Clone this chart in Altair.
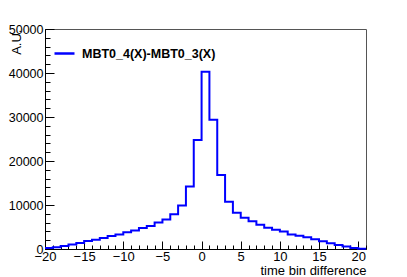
import altair as alt
import pandas as pd

# histogram: bin low edges (width 1) and contents
bin_low_edges = list(range(-20, 21))
bin_counts = [200, 400, 700, 1000, 1350, 1800, 2100, 2500, 2950, 3300,
              3800, 4200, 4800, 5200, 6000, 6700, 7900, 9900, 14200, 24800,
              40300, 29400, 16800, 10750, 8250, 7100, 6300, 5500, 4850, 4400,
              4000, 3300, 3000, 2650, 2200, 1750, 1300, 900, 550, 250, 80]
series_name = "MBT0_4(X)-MBT0_3(X)"
x_major = [-20, -15, -10, -5, 0, 5, 10, 15, 20]
x_minor = list(range(-20, 22))
y_major = [0, 10000, 20000, 30000, 40000, 50000]
y_minor = list(range(0, 50001, 2000))

# step outline: last bin closed at the upper edge
xs = bin_low_edges + [bin_low_edges[-1] + 1]
ys = bin_counts + [bin_counts[-1]]
df = pd.DataFrame({"x": xs, "y": ys, "series": series_name})

FONT = "Liberation Sans"
W, H = 321, 220
xscale = alt.Scale(domain=[-20, 21], nice=False, zero=False)
yscale = alt.Scale(domain=[0, 50000], nice=False)

main = alt.Chart(df).mark_line(interpolate="step-after", strokeWidth=2).encode(
    x=alt.X("x:Q", scale=xscale,
            axis=alt.Axis(orient="bottom", values=x_major, format="d",
                          tickSize=alt.ExprRef(expr="-8"), labelPadding=9,
                          labelFont=FONT, labelFontSize=13, labelColor="black",
                          domainColor="black", tickColor="black", grid=False,
                          labelFlush=False, labelOverlap=False,
                          title="time bin difference", titleFont=FONT,
                          titleFontSize=13, titleFontWeight="normal",
                          titleAnchor="end", titleAlign="right",
                          titleBaseline="alphabetic", titleX=W, titleY=25,
                          titleColor="black")),
    y=alt.Y("y:Q", scale=yscale,
            axis=alt.Axis(orient="left", values=y_major, format="d",
                          tickSize=alt.ExprRef(expr="-9"), labelPadding=11,
                          labelFont=FONT, labelFontSize=12.5, labelColor="black",
                          domainColor="black", tickColor="black", grid=False,
                          labelOverlap=False,
                          title="A.U.", titleFont=FONT, titleFontSize=13,
                          titleFontWeight="normal", titleAnchor="end",
                          titleAlign="right", titleAngle=270,
                          titleBaseline="alphabetic", titleX=-25, titleY=0,
                          titleColor="black")),
    color=alt.Color("series:N",
                    scale=alt.Scale(domain=[series_name], range=["#0000ff"]),
                    legend=alt.Legend(orient="none", legendX=8, legendY=13,
                                      title=None, symbolType="stroke",
                                      symbolSize=400, symbolStrokeWidth=2.5,
                                      labelFont=FONT, labelFontSize=12.5,
                                      labelFontWeight="bold", labelColor="black",
                                      labelOffset=6, labelLimit=400)),
)

minor = alt.Chart(df).mark_line(opacity=0).encode(
    x=alt.X("x:Q", scale=xscale,
            axis=alt.Axis(orient="bottom", values=x_minor, labels=False,
                          tickSize=alt.ExprRef(expr="-4"), domain=False,
                          tickColor="black", grid=False, title=None)),
    y=alt.Y("y:Q", scale=yscale,
            axis=alt.Axis(orient="left", values=y_minor, labels=False,
                          tickSize=alt.ExprRef(expr="-5"), domain=False,
                          tickColor="black", grid=False, title=None)),
)

chart = alt.layer(main, minor).resolve_axis(
    x="independent", y="independent"
).properties(
    width=W, height=H,
    autosize=alt.AutoSizeParams(type="none"),
    padding={"left": 37, "top": 21, "right": 30, "bottom": 27},
).configure_view(stroke="#555555", strokeWidth=1)

chart.save("out.html", embed_options={"renderer": "svg", "actions": False})
